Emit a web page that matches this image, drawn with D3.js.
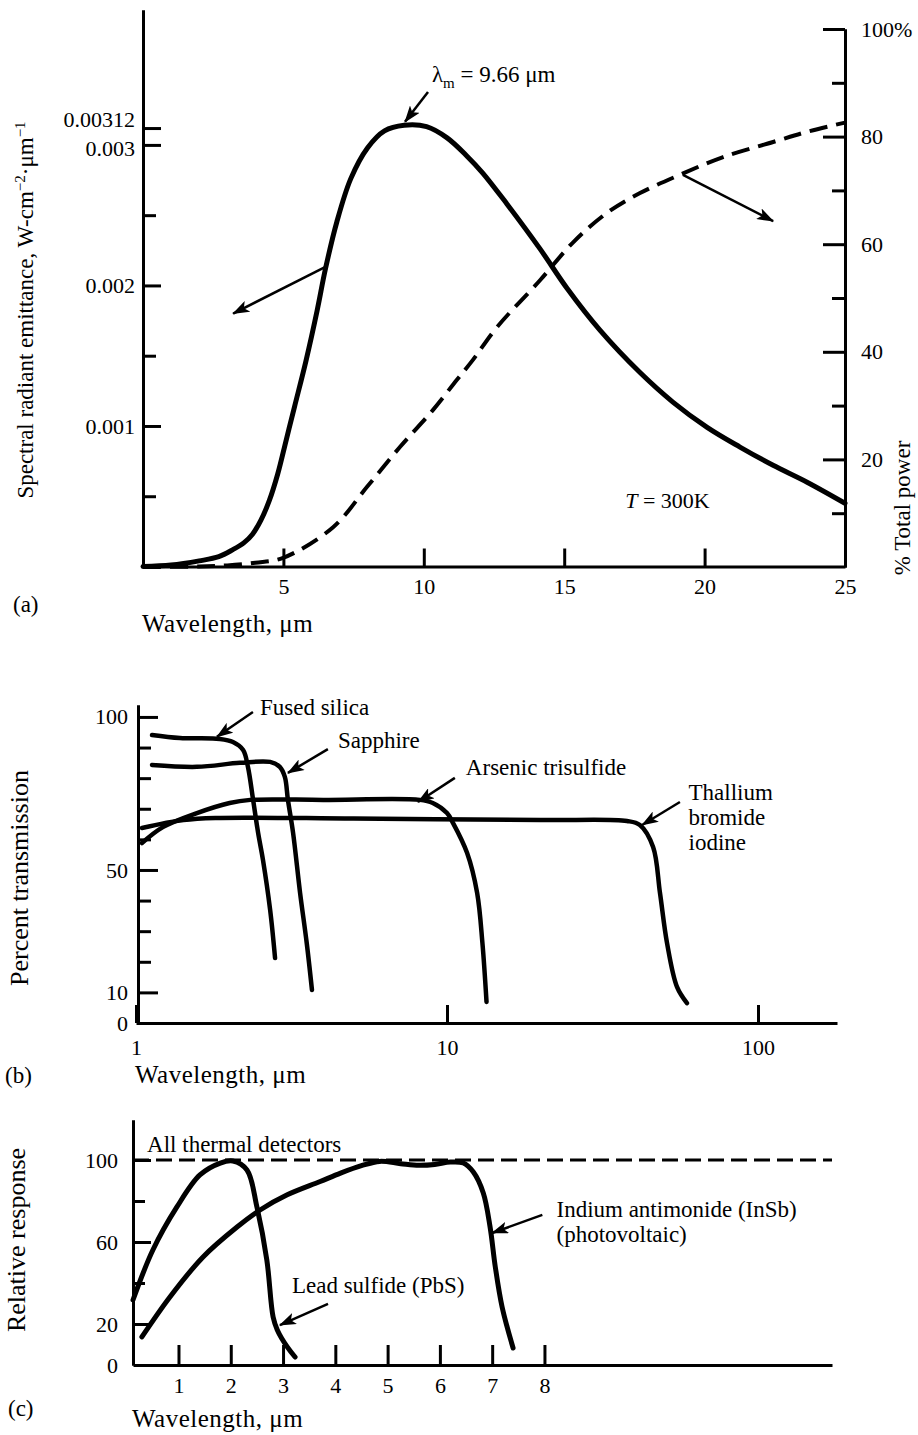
<!DOCTYPE html>
<html><head><meta charset="utf-8">
<script src="https://cdn.jsdelivr.net/npm/d3@7/dist/d3.min.js"></script>
<style>html,body{margin:0;padding:0;background:#fff;}svg{display:block;}</style>
</head><body>
<svg id="chart" width="918" height="1435"></svg>
<script>
// ---------- Panel (a): blackbody at 300 K ----------
const emitWl  = [0, 1, 2, 2.7, 3.2, 3.6, 3.9, 4.2, 4.5, 4.8, 5.1, 5.4, 5.8, 6.2, 6.5, 6.9, 7.4, 8.0, 8.6, 9.3, 10.1, 10.83, 11.54, 12.1, 12.96, 14.14, 15.1, 16.28, 17.7, 18.87, 20.09, 21.26, 22.44, 23.65, 25];
const emitVal = [0, 0.00001, 0.00004, 0.00007, 0.00012, 0.00017, 0.00023, 0.00033, 0.00047, 0.00066, 0.0009, 0.00114, 0.00146, 0.00182, 0.00212, 0.00245, 0.00276, 0.00298, 0.0031, 0.00314, 0.00313, 0.00305, 0.00292, 0.0028, 0.00258, 0.00226, 0.00198, 0.00168, 0.00138, 0.00117, 0.00099, 0.00085, 0.00072, 0.0006, 0.00045];
const powerWl  = [0, 2, 3, 4, 4.99, 6.77, 7.98, 9.15, 10.33, 11.18, 11.75, 12.61, 14.14, 15.31, 16.52, 17.7, 19.12, 20.66, 22.44, 23.65, 25];
const powerPct = [0, 0.1, 0.3, 0.8, 1.7, 7.4, 14.9, 22.3, 29.2, 34.8, 38.5, 44.6, 53.3, 60.3, 65.8, 69.5, 72.9, 76.2, 79.0, 80.9, 82.6];
const aLeftMajor  = [0.001, 0.002, 0.003, 0.00312];
const aLeftLabels = ["0.001", "0.002", "0.003", "0.00312"];
const aLeftMinor  = [0.0005, 0.0015, 0.0025];
const aBottomTicks = [5, 10, 15, 20, 25];
const aRightMajor = [20, 40, 60, 80, 100];
const aRightMinor = [10, 30, 50, 70, 90];

// ---------- Panel (b): window materials ----------
const silicaWl = [1.126, 1.385, 1.862, 2.05, 2.21, 2.29, 2.38, 2.47, 2.56, 2.70, 2.80];
const silicaT  = [94.1, 93.1, 92.8, 91.8, 89.2, 83.7, 72.9, 62.1, 53.3, 36.9, 21.2];
const sapphireWl = [1.126, 1.57, 2.16, 2.70, 2.90, 3.01, 3.08, 3.20, 3.37, 3.54, 3.68];
const sapphireT  = [84.3, 83.7, 85.0, 85.3, 83.7, 80.4, 72.9, 62.1, 42.5, 26.1, 10.8];
const arsenicWl = [1.045, 1.22, 1.57, 2.0, 2.33, 4.0, 8.18, 9.0, 10.0, 10.45, 11.6, 12.5, 13.0, 13.4];
const arsenicT  = [58.8, 64, 68.6, 71.9, 72.9, 72.9, 72.9, 71.9, 68.6, 65.4, 55.6, 42.5, 26.1, 6.9];
const thalliumWl = [1.045, 1.42, 1.8, 5, 20, 37.9, 41.7, 46.0, 48.4, 51.0, 54.9, 59.1];
const thalliumT  = [63.7, 66.3, 67, 66.8, 66.3, 66.0, 64.7, 57.5, 42.5, 26.1, 11.8, 6.5];
const bLeftLabels = [0, 10, 50, 100];
const bLeftMajor  = [10, 50, 100];
const bLeftMinor  = [20, 30, 40, 60, 70, 80, 90];
const bBottomTicks = [1, 10, 100];

// ---------- Panel (c): detectors ----------
const thermalWl = [0.13, 13.5];
const thermalR  = [100, 100];
const pbsWl = [0.13, 0.51, 0.97, 1.41, 1.8, 2.04, 2.31, 2.5, 2.69, 2.81, 2.89, 3.08, 3.23];
const pbsR  = [31.7, 56.1, 77.1, 92.7, 98.5, 99.5, 95.1, 77.1, 51.2, 23.4, 17.1, 8.8, 3.9];
const insbWl = [0.3, 0.84, 1.47, 2.12, 2.56, 3.08, 3.71, 4.1, 4.5, 4.85, 5.25, 5.6, 5.9, 6.2, 6.45, 6.64, 6.83, 6.96, 7.06, 7.19, 7.4];
const insbR  = [13.7, 33.3, 52.7, 67.3, 75.6, 83.0, 89.5, 93.6, 97.2, 99.3, 98.2, 97.4, 97.8, 99.0, 98.5, 94.1, 83.9, 67.3, 47.8, 28.3, 8.3];
const cLeftLabels = [0, 20, 60, 100];
const cLeftMajor  = [20, 60, 100];
const cLeftMinor  = [40, 80];
const cBottomTicks = [1, 2, 3, 4, 5, 6, 7, 8];

// ---------- drawing ----------
const FONT = "'Liberation Serif','Times New Roman',serif";
const svg = d3.select("#chart");
svg.append("defs").append("marker")
  .attr("id", "arr").attr("markerUnits", "userSpaceOnUse")
  .attr("markerWidth", 18).attr("markerHeight", 12)
  .attr("refX", 16).attr("refY", 6).attr("orient", "auto")
  .append("path").attr("d", "M0,0 L17,6 L0,12 L4,6 Z").attr("fill", "#000");

const zip = (xs, ys) => xs.map((x, i) => [x, ys[i]]);
const smooth = d3.curveCatmullRom.alpha(0.5);

function curve(xs, ys, sx, sy, w, dash) {
  const line = d3.line().curve(smooth).x(d => sx(d[0])).y(d => sy(d[1]));
  svg.append("path").datum(zip(xs, ys)).attr("d", line)
    .attr("fill", "none").attr("stroke", "#000").attr("stroke-width", w)
    .attr("stroke-linejoin", "round").attr("stroke-linecap", dash ? "butt" : "round")
    .attr("stroke-dasharray", dash || null);
}
function styleAxis(g, size) {
  g.attr("font-family", FONT).attr("font-size", size);
  g.selectAll("line").attr("stroke-width", 3);
  g.selectAll("path.domain").attr("stroke-width", 3);
}
function arrow(sx, sy, from, to) {
  svg.append("line")
    .attr("x1", sx(from[0])).attr("y1", sy(from[1]))
    .attr("x2", sx(to[0])).attr("y2", sy(to[1]))
    .attr("stroke", "#000").attr("stroke-width", 2.5).attr("marker-end", "url(#arr)");
}
function text(x, y, str, size, opts = {}) {
  const t = svg.append("text").attr("x", x).attr("y", y).attr("font-family", FONT)
    .attr("font-size", size).attr("fill", "#000").text(str);
  if (opts.anchor) t.attr("text-anchor", opts.anchor);
  if (opts.ls) t.attr("letter-spacing", opts.ls);
  return t;
}
function vtitle(x, y, size) {
  return svg.append("text").attr("transform", `translate(${x},${y}) rotate(-90)`)
    .attr("text-anchor", "middle").attr("font-family", FONT).attr("font-size", size).attr("fill", "#000");
}

// ===== Panel (a) =====
const xA = d3.scaleLinear([0, 25], [143, 845]);
const yA = d3.scaleLinear([0, 0.00396], [566.5, 10]);
const yA2 = d3.scaleLinear([0, 100], [567, 29]);

svg.append("g").attr("transform", `translate(${xA(0)},0)`)
  .call(d3.axisLeft(yA).tickValues(aLeftMinor).tickSizeInner(-13).tickSizeOuter(0).tickFormat(""))
  .call(g => styleAxis(g, 22));
svg.append("g").attr("transform", `translate(${xA(0)},0)`)
  .call(d3.axisLeft(yA).tickValues(aLeftMajor).tickSizeInner(-18).tickSizeOuter(0).tickPadding(8)
    .tickFormat((d, i) => aLeftLabels[i]))
  .call(g => styleAxis(g, 22))
  .call(g => g.selectAll(".tick text").filter(d => d === 0.00312).attr("dy", "-0.08em"))
  .call(g => g.selectAll(".tick text").filter(d => d === 0.003).attr("dy", "0.48em"));
svg.append("g").attr("transform", `translate(0,${yA(0)})`)
  .call(d3.axisBottom(xA).tickValues(aBottomTicks).tickSizeInner(-18).tickSizeOuter(0).tickPadding(12))
  .call(g => styleAxis(g, 22));
svg.append("g").attr("transform", `translate(${xA(25)},0)`)
  .call(d3.axisRight(yA2).tickValues(aRightMinor).tickSizeInner(-13).tickSizeOuter(0).tickFormat(""))
  .call(g => styleAxis(g, 22));
svg.append("g").attr("transform", `translate(${xA(25)},0)`)
  .call(d3.axisRight(yA2).tickValues(aRightMajor).tickSizeInner(-22).tickSizeOuter(0).tickPadding(16)
    .tickFormat(d => d === 100 ? "100%" : d))
  .call(g => styleAxis(g, 22));

curve(powerWl, powerPct, xA, yA2, 4, "18,9");
curve(emitWl, emitVal, xA, yA, 5, null);

// annotations (a)
const lm = text(xA(10.29), yA(0.00345), "λ", 23);
lm.append("tspan").attr("dy", 6).attr("font-size", 15).text("m");
lm.append("tspan").attr("dy", -6).text(" = 9.66 μm");
arrow(xA, yA, [10.15, 0.003377], [9.33, 0.003164]);
arrow(xA, yA, [6.48, 0.00213], [3.21, 0.0018]);
arrow(xA, yA2, [19.23, 72.9], [22.44, 64.3]);
const tt = text(xA(17.17), yA(0.000416), "", 22);
tt.append("tspan").attr("font-style", "italic").text("T");
tt.append("tspan").text(" = 300K");

const ta = vtitle(33, 310, 23);
ta.append("tspan").text("Spectral radiant emittance, W-cm");
ta.append("tspan").attr("dy", -8).attr("font-size", 15).text("−2");
ta.append("tspan").attr("dy", 8).text("·μm");
ta.append("tspan").attr("dy", -8).attr("font-size", 15).text("−1");
vtitle(910, 508, 23).text("% Total power");
text(13, 612, "(a)", 23);
text(142, 632, "Wavelength, μm", 25, { ls: 0.5 });

// ===== Panel (b) =====
const xB = d3.scaleLog([1, 179.5], [136, 837]);
const yB = d3.scaleLinear([0, 103.9], [1023, 705]);

svg.append("g").attr("transform", `translate(${xB(1) + 2},0)`)
  .call(d3.axisLeft(yB).tickValues(bLeftMinor).tickSizeInner(-13).tickSizeOuter(0).tickFormat(""))
  .call(g => styleAxis(g, 22));
svg.append("g").attr("transform", `translate(${xB(1) + 2},0)`)
  .call(d3.axisLeft(yB).tickValues(bLeftLabels).tickSizeInner(-20).tickSizeOuter(0).tickPadding(10))
  .call(g => styleAxis(g, 22))
  .call(g => g.selectAll(".tick line").filter(d => !bLeftMajor.includes(d)).remove());
svg.append("g").attr("transform", `translate(0,${yB(0)})`)
  .call(d3.axisBottom(xB).tickValues(bBottomTicks).tickSizeInner(-18).tickSizeOuter(0).tickPadding(16)
    .tickFormat(d3.format("d")))
  .call(g => styleAxis(g, 22));

curve(thalliumWl, thalliumT, xB, yB, 4.5, null);
curve(arsenicWl, arsenicT, xB, yB, 4.5, null);
curve(silicaWl, silicaT, xB, yB, 4.5, null);
curve(sapphireWl, sapphireT, xB, yB, 4.5, null);

text(xB(2.504), yB(100.7), "Fused silica", 23);
arrow(xB, yB, [2.377, 101.6], [1.82, 93.5]);
text(xB(4.46), yB(89.9), "Sapphire", 23);
arrow(xB, yB, [4.14, 89.5], [3.08, 81.7]);
text(xB(11.5), yB(81), "Arsenic trisulfide", 23);
arrow(xB, yB, [10.6, 80.1], [8.07, 72.2]);
text(xB(59.8), yB(72.9), "Thallium", 23);
text(xB(59.8), yB(64.7), "bromide", 23);
text(xB(59.8), yB(56.5), "iodine", 23);
arrow(xB, yB, [56.1, 72.2], [42.4, 64.7]);

vtitle(28, 878, 26).text("Percent transmission");
text(5, 1083, "(b)", 23);
text(135, 1083, "Wavelength, μm", 25, { ls: 0.5 });

// ===== Panel (c) =====
const xC = d3.scaleLinear([0.13, 13.5], [133, 832]);
const yC = d3.scaleLinear([0, 119.5], [1365, 1120]);

svg.append("g").attr("transform", `translate(${xC(0.13)},0)`)
  .call(d3.axisLeft(yC).tickValues(cLeftMinor).tickSizeInner(-12).tickSizeOuter(0).tickFormat(""))
  .call(g => styleAxis(g, 22));
svg.append("g").attr("transform", `translate(${xC(0.13)},0)`)
  .call(d3.axisLeft(yC).tickValues(cLeftLabels).tickSizeInner(-18).tickSizeOuter(0).tickPadding(15))
  .call(g => styleAxis(g, 22))
  .call(g => g.selectAll(".tick line").filter(d => !cLeftMajor.includes(d)).remove());
svg.append("g").attr("transform", `translate(0,${yC(0)})`)
  .call(d3.axisBottom(xC).tickValues(cBottomTicks).tickSizeInner(-20).tickSizeOuter(0).tickPadding(12))
  .call(g => styleAxis(g, 22));

curve(thermalWl, thermalR, xC, yC, 3, "16,7");
curve(insbWl, insbR, xC, yC, 5, null);
curve(pbsWl, pbsR, xC, yC, 5, null);

text(xC(0.40), yC(103.9), "All thermal detectors", 23);
text(xC(3.17), yC(35.1), "Lead sulfide (PbS)", 23);
arrow(xC, yC, [3.86, 29.8], [2.94, 19.5]);
text(xC(8.23), yC(72.2), "Indium antimonide (InSb)", 23);
text(xC(8.23), yC(60), "(photovoltaic)", 23);
arrow(xC, yC, [7.96, 73.2], [7.0, 64.4]);

vtitle(25, 1240, 26).text("Relative response");
text(8, 1416, "(c)", 23);
text(132, 1427, "Wavelength, μm", 25, { ls: 0.5 });
</script>
</body></html>
